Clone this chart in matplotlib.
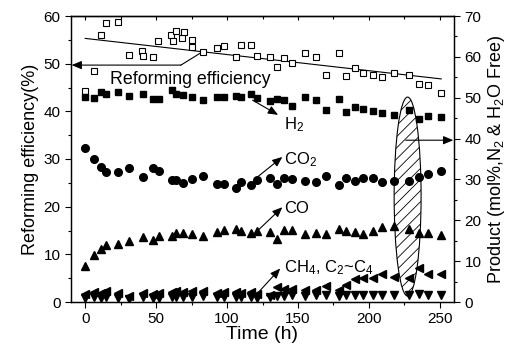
import matplotlib.pyplot as plt
from matplotlib.patches import Ellipse
from matplotlib.ticker import MultipleLocator

plt.rcParams['font.family'] = ['Liberation Sans', 'DejaVu Sans']
plt.rcParams['mathtext.default'] = 'regular'
plt.rcParams['hatch.linewidth'] = 0.6

# === Data ===
# reforming efficiency (left axis, open squares)
t_eff = [0, 6.5, 11, 15, 23, 31, 40, 41, 48, 51.5, 60.6, 62, 64, 68, 70, 75, 75.4, 83,
         93, 98, 106, 110, 117, 121, 130, 135, 140, 146, 155, 163, 170, 179, 184, 190,
         196, 203, 209, 218, 228, 235, 242, 251]
eff = [44.3, 48.5, 56.0, 58.5, 58.8, 51.8, 52.7, 51.7, 51.3, 54.7, 56.0, 54.8, 56.8, 55.3,
       56.6, 54.9, 53.6, 52.4, 53.2, 53.8, 51.5, 53.9, 53.9, 51.6, 51.3, 49.4, 51.2, 50.2,
       52.2, 51.3, 47.6, 52.3, 47.4, 49.0, 48.1, 47.6, 47.2, 48.0, 47.7, 45.8, 45.6, 43.8]
trend_t = [0, 251]
trend_eff = [55.3, 46.8]

# product gas composition (right axis)
t_gas = [0, 6, 11, 15, 23, 31, 41, 48, 52, 61, 64, 69, 75, 83, 93, 98, 106, 110, 117, 121,
         130, 135, 140, 146, 155, 163, 170, 179, 184, 190, 196, 203, 209, 218, 228, 235, 242, 251]
h2 = [50.2, 49.9, 51.3, 50.8, 51.5, 50.4, 50.8, 49.7, 49.7, 51.9, 50.8, 50.7, 50.1, 49.4,
      50.2, 50.2, 50.4, 50.1, 50.8, 49.9, 49.2, 49.6, 49.4, 48.0, 50.2, 49.4, 47.0, 49.7,
      46.6, 47.8, 47.2, 46.7, 46.3, 45.8, 47.0, 44.8, 45.5, 45.4]
co2 = [37.8, 35.0, 33.0, 31.9, 31.7, 32.9, 30.6, 32.9, 32.1, 29.9, 29.8, 29.1, 30.1, 30.8,
       28.9, 28.9, 27.9, 29.3, 28.6, 29.9, 30.4, 28.9, 30.3, 30.0, 29.7, 29.4, 30.8, 28.6,
       30.4, 29.6, 30.4, 30.4, 29.4, 29.7, 29.7, 30.5, 31.3, 32.1]
co = [8.8, 11.5, 12.9, 13.9, 14.1, 14.9, 16.0, 15.2, 16.2, 16.2, 17.0, 17.0, 16.6, 16.2,
      17.2, 17.6, 17.8, 17.4, 17.0, 17.4, 17.2, 15.3, 17.6, 17.6, 16.6, 16.8, 16.6, 17.9,
      17.4, 17.2, 16.6, 17.4, 18.3, 18.7, 17.9, 16.8, 17.0, 16.4]
c2c4 = [2.0, 2.4, 2.2, 2.6, 2.1, 1.5, 2.3, 2.0, 2.1, 2.4, 2.6, 2.5, 2.6, 2.8, 2.3, 2.4,
        2.4, 2.2, 2.4, 2.0, 1.8, 3.6, 3.1, 3.3, 2.9, 2.9, 3.9, 2.9, 4.2, 5.6, 5.8, 5.8,
        6.8, 6.2, 5.8, 8.2, 6.8, 6.8]
ch4 = [1.1, 1.2, 1.0, 1.3, 1.0, 0.8, 1.2, 1.0, 1.1, 1.3, 1.2, 1.3, 1.2, 1.4, 1.2, 1.3,
       1.2, 1.3, 1.2, 1.1, 1.2, 1.5, 1.4, 1.6, 1.5, 1.6, 1.7, 1.5, 1.6, 1.7, 1.6, 1.7,
       1.7, 1.7, 1.6, 2.0, 1.7, 1.7]

# === Figure ===
fig = plt.figure(figsize=(5.14, 3.52), dpi=100)
ax = fig.add_axes([71/514, 1-302/352, 383/514, 286/352])
ax2 = ax.twinx()

ax.set_xlim(-10, 260)
ax.set_ylim(0, 60)
ax2.set_ylim(0, 70)

ms = dict(color='k', linestyle='none')
ax.plot(t_eff, eff, marker='s', markersize=4.5, markerfacecolor='white',
        markeredgewidth=0.8, zorder=3, **ms)
ax.plot(trend_t, trend_eff, color='k', lw=0.8)

ax2.plot(t_gas, h2, marker='s', markersize=4.5, zorder=4, **ms)
ax2.plot(t_gas, co2, marker='o', markersize=5.5, zorder=4, **ms)
ax2.plot(t_gas, co, marker='^', markersize=5.5, zorder=4, **ms)
ax2.plot(t_gas, c2c4, marker='<', markersize=5.5, zorder=4, **ms)
ax2.plot(t_gas, ch4, marker='v', markersize=5.5, zorder=4, **ms)

# hatched ellipse
ell = Ellipse((227.3, 25.8), 19, 48.7, facecolor='white', edgecolor='k',
              hatch='///', lw=0.8, zorder=2)
ax2.add_patch(ell)

arr = dict(arrowstyle='-|>,head_length=0.6,head_width=0.25', color='k', lw=0.8,
           mutation_scale=10, shrinkA=0, shrinkB=0)
ax2.annotate('', xy=(259.5, 39.6), xytext=(226, 39.6), arrowprops=arr, zorder=5)

# reforming efficiency label
ax.plot([82.7, 67.5], [52.5, 49.7], color='k', lw=0.8)
ax.annotate('', xy=(-9.6, 49.7), xytext=(67.5, 49.7), arrowprops=arr)
ax.text(17.6, 46.6, 'Reforming efficiency', fontsize=12.8, ha='left', va='center')

# gas labels
ax2.annotate('', xy=(136, 45.8), xytext=(118, 49.4), arrowprops=arr)
ax2.text(140, 43.3, 'H$_2$', fontsize=12, ha='left', va='center')
ax2.annotate('', xy=(139, 35.5), xytext=(121.8, 30.7), arrowprops=arr)
ax2.text(140.5, 34.8, 'CO$_2$', fontsize=12, ha='left', va='center')
ax2.annotate('', xy=(139, 23.2), xytext=(121.4, 17.4), arrowprops=arr)
ax2.text(140.5, 23.0, 'CO', fontsize=12, ha='left', va='center')
ax2.annotate('', xy=(137.5, 8.2), xytext=(121.4, 2.1), arrowprops=arr)
ax2.text(140, 8.4, 'CH$_4$, C$_2$~C$_4$', fontsize=12, ha='left', va='center')

# axes styling
ax.set_xlabel('Time (h)', fontsize=14, labelpad=0)
ax.set_ylabel('Reforming efficiency(%)', fontsize=13, labelpad=3)
ax2.set_ylabel('Product (mol%,N$_2$ & H$_2$O Free)', fontsize=13, labelpad=3)

ax.xaxis.set_major_locator(MultipleLocator(50))
ax.xaxis.set_minor_locator(MultipleLocator(25))
ax.yaxis.set_major_locator(MultipleLocator(10))
ax.yaxis.set_minor_locator(MultipleLocator(5))
ax2.yaxis.set_major_locator(MultipleLocator(10))
ax2.yaxis.set_minor_locator(MultipleLocator(5))

ax.tick_params(axis='both', which='major', direction='out', length=4, width=0.8, labelsize=11)
ax.tick_params(axis='both', which='minor', direction='out', length=2.5, width=0.8)
ax2.tick_params(axis='y', which='major', direction='out', length=4, width=0.8, labelsize=11)
ax2.tick_params(axis='y', which='minor', direction='out', length=2.5, width=0.8)

top = ax.secondary_xaxis('top')
top.xaxis.set_major_locator(MultipleLocator(50))
top.xaxis.set_minor_locator(MultipleLocator(25))
top.tick_params(which='major', direction='in', length=3, width=0.8, labeltop=False)
top.tick_params(which='minor', direction='in', length=2, width=0.8)

for a in (ax, ax2):
    for s in a.spines.values():
        s.set_linewidth(0.9)
top.spines['top'].set_linewidth(0.9)

fig.savefig('out.png', dpi=100)
